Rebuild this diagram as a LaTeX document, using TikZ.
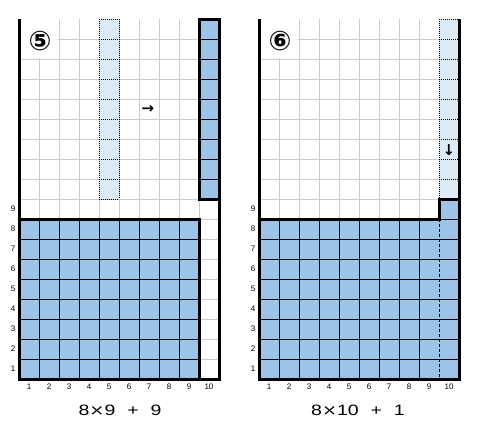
\documentclass[tikz,border=0pt]{standalone}
\usepackage{fontspec}
\setmainfont{Liberation Sans}
\newfontfamily\symfont{DejaVu Sans}
\newfontfamily\capfont[FakeStretch=1.3,WordSpace=2.2]{Liberation Sans}
\newfontfamily\captimes[FakeStretch=1.2]{DejaVu Sans}
\definecolor{gridgray}{RGB}{204,204,204}
\definecolor{cellblue}{RGB}{157,195,230}
\definecolor{lightblue}{RGB}{221,235,247}
\tikzset{
  gridline/.style={draw=gridgray, line width=1pt},
  cellline/.style={draw=black, line width=1pt},
  thickline/.style={draw=black, line width=3pt},
  dotline/.style={draw=black, line width=1pt, dash pattern=on 1pt off 1pt},
  dashline/.style={draw=black, line width=1pt, dash pattern=on 3pt off 2pt},
  rowlabel/.style={font=\fontsize{8}{8}\selectfont, inner sep=0pt},
  collabel/.style={font=\fontsize{8}{8}\selectfont, inner sep=0pt},
  circnum/.style={font=\symfont\bfseries\fontsize{27}{27}\selectfont, inner sep=0pt},
  arrowtext/.style={font=\symfont\bfseries\fontsize{15}{15}\selectfont, inner sep=0pt},
  caption/.style={font=\capfont\fontsize{15}{15}\selectfont, inner sep=0pt},
}
\begin{document}
\begin{tikzpicture}[x=1pt,y=-1pt]
\useasboundingbox (0,0) rectangle (480,439);
\fill[white] (0,0) rectangle (480,439);

% ---------------- Left panel ----------------
\begin{scope}[shift={(19,19)}]
  \foreach \x in {20,40,...,200} \draw[gridline] (\x,0) -- (\x,360);
  \foreach \y in {20,40,...,340} \draw[gridline] (0,\y) -- (200,\y);
  \fill[white] (1.5,-1) rectangle (39,39);
  % dotted strip (column 5)
  \fill[lightblue] (80,0) rectangle (100,180);
  \foreach \y in {0,20,...,180} \draw[dotline] (80,\y) -- (100,\y);
  \draw[dotline] (80,0) -- (80,180);
  \draw[dotline] (100,0) -- (100,180);
  % blue block 9 x 8
  \fill[cellblue] (0,200) rectangle (180,360);
  \foreach \x in {20,40,...,160} \draw[cellline] (\x,200) -- (\x,360);
  \foreach \y in {220,240,...,340} \draw[cellline] (0,\y) -- (180,\y);
  \draw[thickline] (0,200) -- (180,200) -- (180,360);
  % blue strip (column 10)
  \fill[cellblue] (180,0) rectangle (200,180);
  \foreach \y in {20,40,...,160} \draw[cellline] (180,\y) -- (200,\y);
  \draw[thickline] (180,0) rectangle (200,180);
  % outline
  \draw[thickline] (0,0) -- (0,360) -- (200,360) -- (200,180);
  % labels
  \foreach \r in {1,...,9} \node[rowlabel] (lr\r) at (-6,370-20*\r) {\r};
  \foreach \c in {1,...,10} \node[collabel] (lc\c) at (20*\c-10,368) {\c};
  \node[circnum] (ln) at (21,22) {⑤};
  \node[arrowtext] (la) at (129,90) {→};
  \node[caption] (lcap) at (101,391) {8{\captimes ×}9 + 9};
\end{scope}

% ---------------- Right panel ----------------
\begin{scope}[shift={(259,19)}]
  \foreach \x in {20,40,...,180} \draw[gridline] (\x,0) -- (\x,360);
  \foreach \y in {20,40,...,340} \draw[gridline] (0,\y) -- (200,\y);
  \fill[white] (1.5,-1) rectangle (39,39);
  % light strip (column 10)
  \fill[lightblue] (180,0) rectangle (200,180);
  \foreach \y in {0,20,...,160} \draw[dotline] (180,\y) -- (200,\y);
  \draw[dotline] (180,0) -- (180,180);
  % blue block 10 x 8 plus one cell
  \fill[cellblue] (0,200) rectangle (200,360);
  \fill[cellblue] (180,180) rectangle (200,200);
  \foreach \x in {20,40,...,160} \draw[cellline] (\x,200) -- (\x,360);
  \draw[dashline] (180,200) -- (180,360);
  \foreach \y in {220,240,...,340} \draw[cellline] (0,\y) -- (200,\y);
  \draw[cellline] (180,200) -- (200,200);
  \draw[thickline] (0,200) -- (180,200) -- (180,180) -- (200,180);
  % outline
  \draw[thickline] (0,0) -- (0,360) -- (200,360) -- (200,0);
  % labels
  \foreach \r in {1,...,9} \node[rowlabel] (rr\r) at (-6,370-20*\r) {\r};
  \foreach \c in {1,...,10} \node[collabel] (rc\c) at (20*\c-10,368) {\c};
  \node[circnum] (rn) at (21,22) {⑥};
  \node[arrowtext] (ra) at (190,131) {↓};
  \node[caption] (rcap) at (99,391) {8{\captimes ×}10 + 1};
\end{scope}
\end{tikzpicture}
\end{document}
